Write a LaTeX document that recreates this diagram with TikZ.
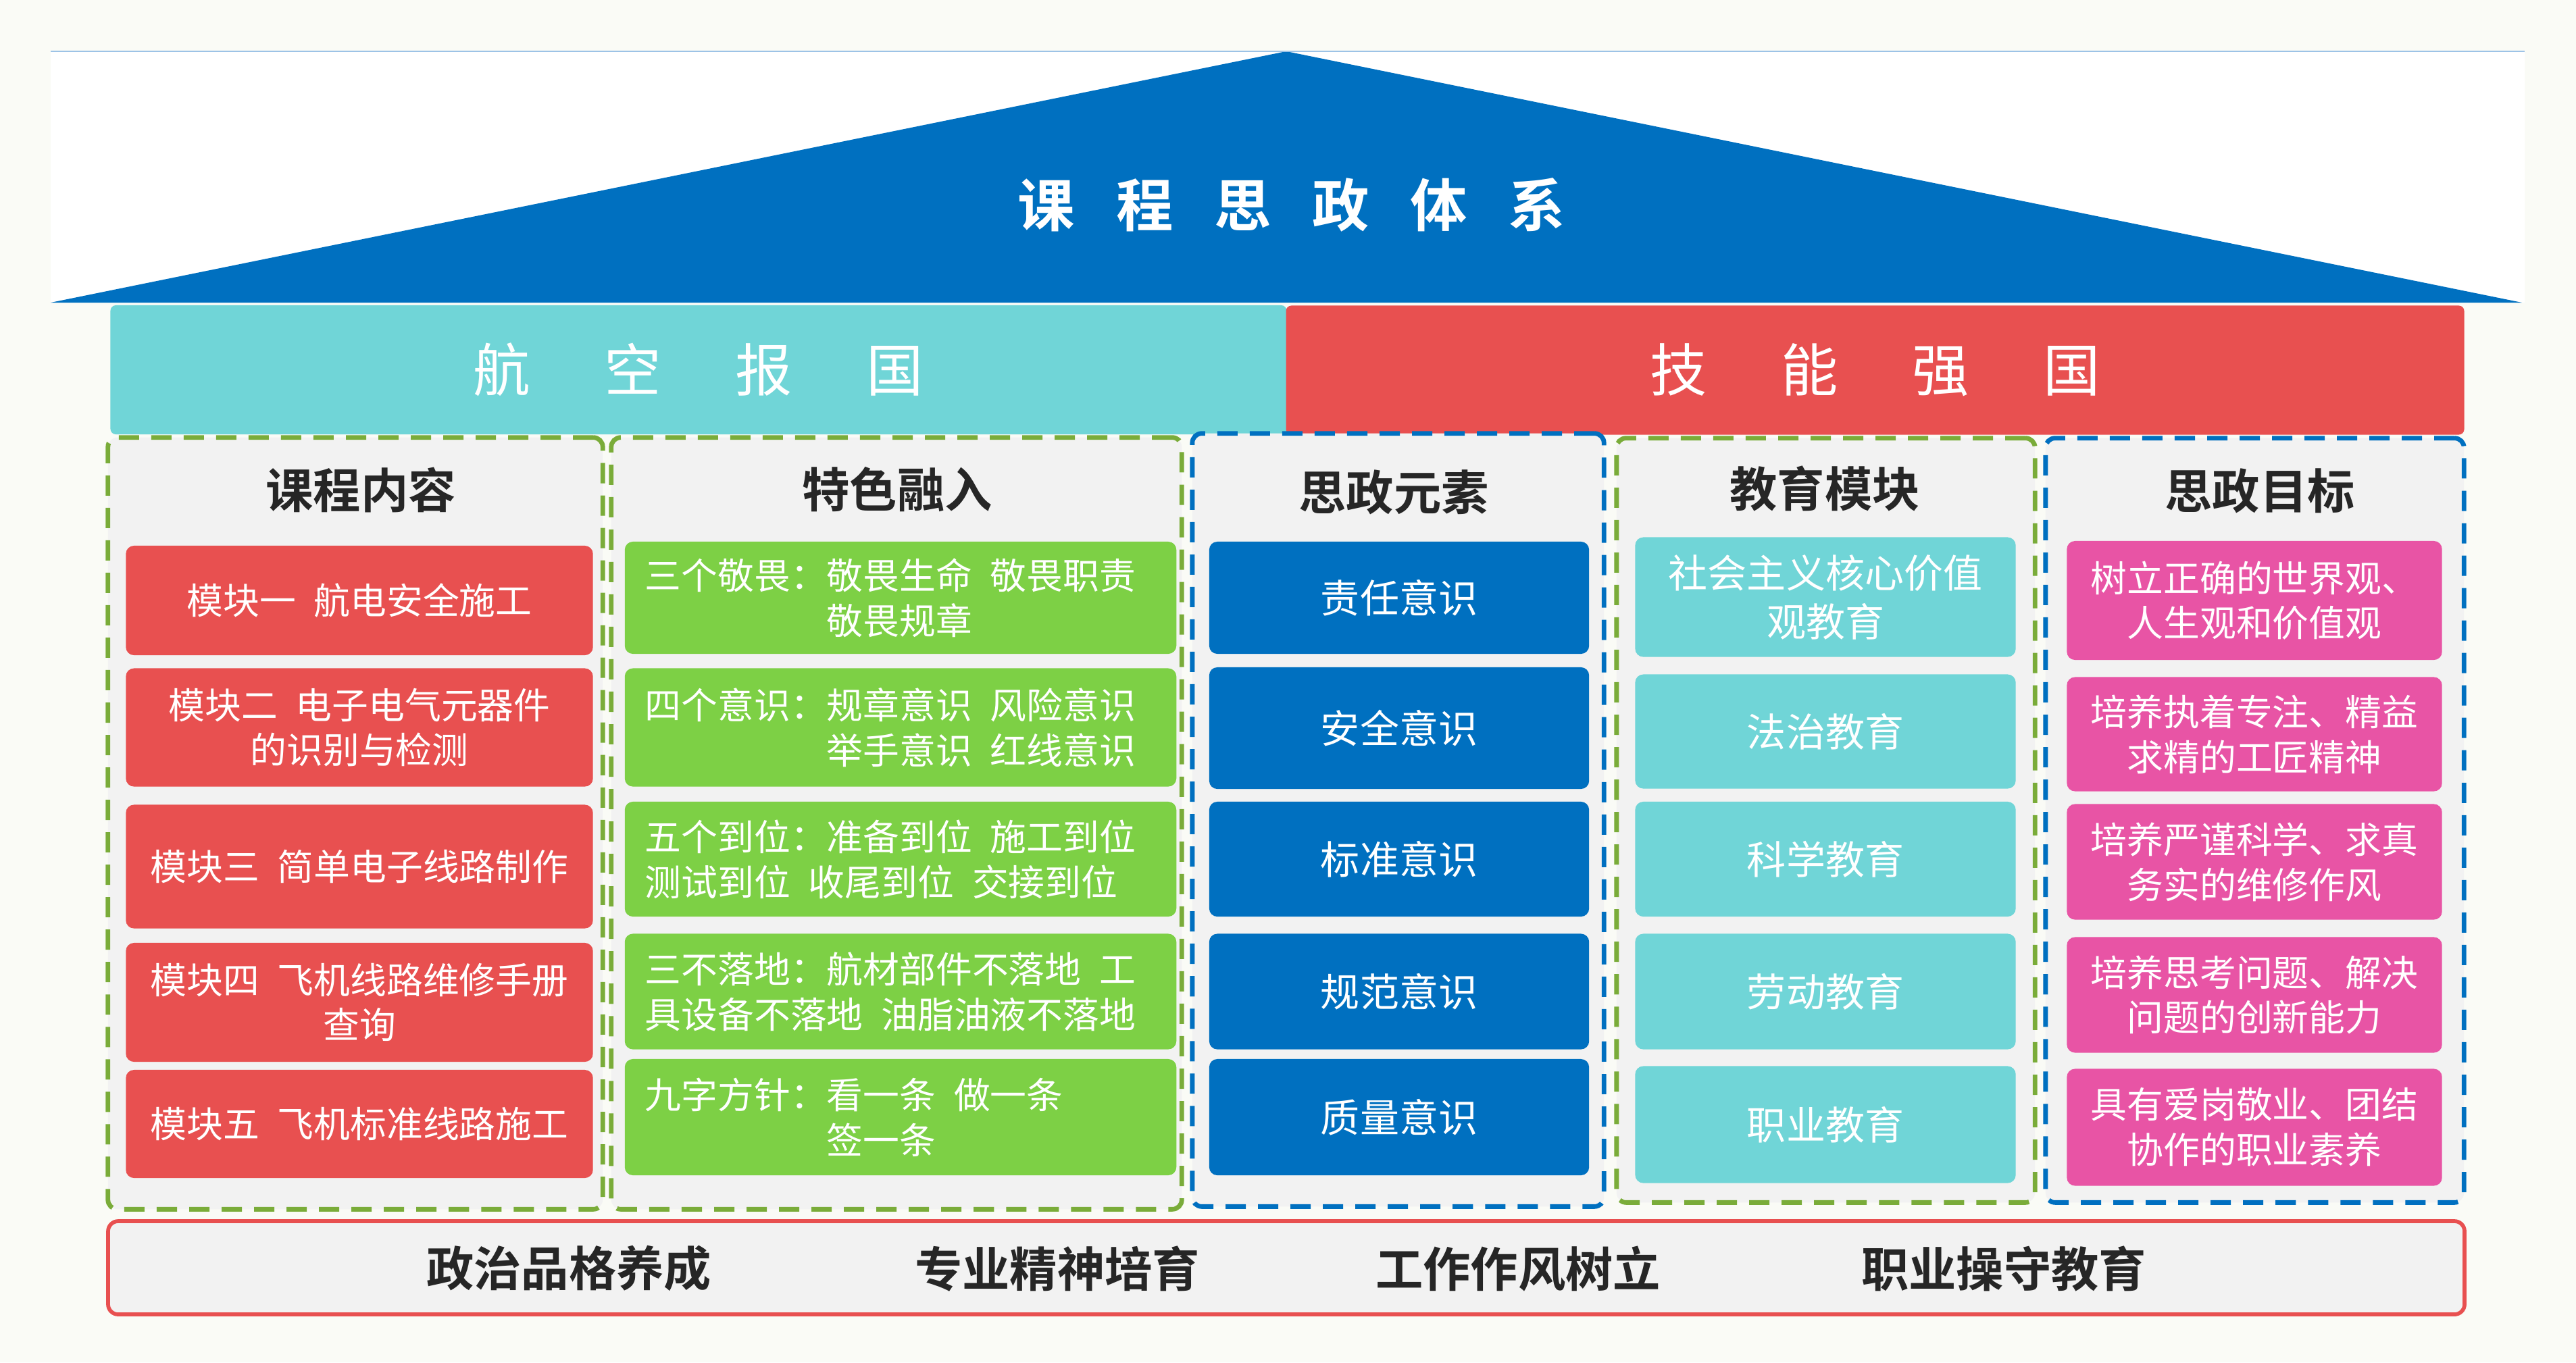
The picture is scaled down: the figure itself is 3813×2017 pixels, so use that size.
\documentclass[tikz,border=0pt]{standalone}
\usepackage{fontspec}
\setmainfont{Noto Sans CJK SC}[BoldFont={Noto Sans CJK SC Bold}]
\usepackage{tikz}
\usetikzlibrary{positioning}

\definecolor{bgc}{HTML}{FAFBF6}
\definecolor{roofblue}{HTML}{0070C0}
\definecolor{rooftop}{HTML}{9DC3E6}
\definecolor{tealc}{HTML}{70D5D7}
\definecolor{redc}{HTML}{E85050}
\definecolor{greenc}{HTML}{7DD045}
\definecolor{pinkc}{HTML}{E854A5}
\definecolor{dashgreen}{HTML}{7AAC39}
\definecolor{panel}{HTML}{F2F2F2}
\definecolor{ink}{HTML}{262626}
\newcommand{\ksp}{\hspace{0.5em}}

\begin{document}
\begin{tikzpicture}[x=0.01cm,y=-0.01cm,
  banner/.style={rounded corners=0.08cm, minimum height=1.91cm, inner sep=0pt, text=white, font=\fontsize{24}{28}\selectfont},
  column/.style={rounded corners=0.14cm, fill=panel, line width=0.068cm, dash pattern=on 0.30cm off 0.18cm},
  head/.style={text=ink, font=\bfseries\fontsize{20}{24}\selectfont},
  cell/.style={rounded corners=0.12cm, inner sep=0pt, align=center, text=white, font=\fontsize{15.3}{19}\selectfont},
  modbox/.style={cell, fill=redc, minimum width=6.91cm},
  trait/.style={cell, fill=greenc, minimum width=8.16cm, text width=7.56cm, align=left},
  elem/.style={cell, fill=roofblue, minimum width=5.62cm, font=\fontsize{16.5}{20.5}\selectfont},
  edu/.style={cell, fill=tealc, minimum width=5.63cm, font=\fontsize{16.5}{20.5}\selectfont},
  goal/.style={cell, fill=pinkc, minimum width=5.55cm}]
\useasboundingbox (0,0) rectangle (3813,2017);
\fill[bgc] (0,0) rectangle (3813,2017);

\fill[white] (75,76) rectangle (3737,448);
\fill[roofblue] (75,448) -- (1904,76) -- (3733,448) -- cycle;
\draw[rooftop, line width=0.02cm] (75,76) -- (3737,76);
\node (title) [text=white, font=\bfseries\fontsize{24}{28}\selectfont] at (1912,303) {课\hspace{0.72em}程\hspace{0.72em}思\hspace{0.72em}政\hspace{0.72em}体\hspace{0.72em}系};

\node (air) [banner, fill=tealc, minimum width=17.40cm] at (1034,547.5) {航\hspace{1.3em}空\hspace{1.3em}报\hspace{1.3em}国};
\node (skill) [banner, fill=redc, minimum width=17.43cm] at (2775.5,548) {技\hspace{1.3em}能\hspace{1.3em}强\hspace{1.3em}国};

\node (col1) [column, draw=dashgreen, minimum width=7.32cm, minimum height=11.42cm] at (526,1219) {};
\node (col2) [column, draw=dashgreen, minimum width=8.44cm, minimum height=11.42cm] at (1327,1219) {};
\node (col3) [column, draw=roofblue, minimum width=6.09cm, minimum height=11.44cm] at (2069.5,1214) {};
\node (col4) [column, draw=dashgreen, minimum width=6.19cm, minimum height=11.31cm] at (2702.5,1214.5) {};
\node (col5) [column, draw=roofblue, minimum width=6.19cm, minimum height=11.31cm] at (3337.5,1214.5) {};

\node (h1) [head] at (534,725) {课程内容};
\node (h2) [head] at (1328,725) {特色融入};
\node (h3) [head] at (2063,729) {思政元素};
\node (h4) [head] at (2701,723) {教育模块};
\node (h5) [head] at (3345,727) {思政目标};

\node (m1) [modbox, minimum height=1.62cm] at (532,889) {模块一\ksp 航电安全施工};
\node (m2) [modbox, minimum height=1.75cm] at (532,1077) {模块二\ksp 电子电气元器件\\的识别与检测};
\node (m3) [modbox, minimum height=1.83cm] at (532,1283) {模块三\ksp 简单电子线路制作};
\node (m4) [modbox, minimum height=1.76cm] at (532,1484) {模块四\ksp 飞机线路维修手册\\查询};
\node (m5) [modbox, minimum height=1.60cm] at (532,1664) {模块五\ksp 飞机标准线路施工};

\node (f1) [trait, minimum height=1.66cm] at (1333,885) {三个敬畏：敬畏生命\ksp 敬畏职责\\\hspace*{5em}敬畏规章};
\node (f2) [trait, minimum height=1.75cm] at (1333,1077) {四个意识：规章意识\ksp 风险意识\\\hspace*{5em}举手意识\ksp 红线意识};
\node (f3) [trait, minimum height=1.70cm] at (1333,1272) {五个到位：准备到位\ksp 施工到位\\测试到位\ksp 收尾到位\ksp 交接到位};
\node (f4) [trait, minimum height=1.71cm] at (1333,1468) {三不落地：航材部件不落地\ksp 工\\具设备不落地\ksp 油脂油液不落地};
\node (f5) [trait, minimum height=1.72cm] at (1333,1654) {九字方针：看一条\ksp 做一条\\\hspace*{5em}签一条};

\node (e1) [elem, minimum height=1.66cm] at (2071,885) {责任意识};
\node (e2) [elem, minimum height=1.80cm] at (2071,1078) {安全意识};
\node (e3) [elem, minimum height=1.70cm] at (2071,1272) {标准意识};
\node (e4) [elem, minimum height=1.71cm] at (2071,1468) {规范意识};
\node (e5) [elem, minimum height=1.72cm] at (2071,1654) {质量意识};

\node (j1) [edu, minimum height=1.77cm] at (2702,884) {社会主义核心价值\\观教育};
\node (j2) [edu, minimum height=1.69cm] at (2702,1083) {法治教育};
\node (j3) [edu, minimum height=1.70cm] at (2702,1272) {科学教育};
\node (j4) [edu, minimum height=1.71cm] at (2702,1468) {劳动教育};
\node (j5) [edu, minimum height=1.73cm] at (2702,1665) {职业教育};

\node (g1) [goal, minimum height=1.76cm] at (3337,889) {树立正确的世界观、\\人生观和价值观};
\node (g2) [goal, minimum height=1.69cm] at (3337,1087) {培养执着专注、精益\\求精的工匠精神};
\node (g3) [goal, minimum height=1.71cm] at (3337,1276) {培养严谨科学、求真\\务实的维修作风};
\node (g4) [goal, minimum height=1.71cm] at (3337,1473) {培养思考问题、解决\\问题的创新能力};
\node (g5) [goal, minimum height=1.73cm] at (3337,1669) {具有爱岗敬业、团结\\协作的职业素养};

\node (base) [draw=redc, line width=0.057cm, fill=panel, rounded corners=0.15cm, minimum width=34.86cm, minimum height=1.38cm] at (1904,1877) {};
\node (b1) [head] at (842,1878) {政治品格养成};
\node (b2) [head] at (1565,1878) {专业精神培育};
\node (b3) [head] at (2247,1878) {工作作风树立};
\node (b4) [head] at (2966,1878) {职业操守教育};
\end{tikzpicture}
\end{document}
